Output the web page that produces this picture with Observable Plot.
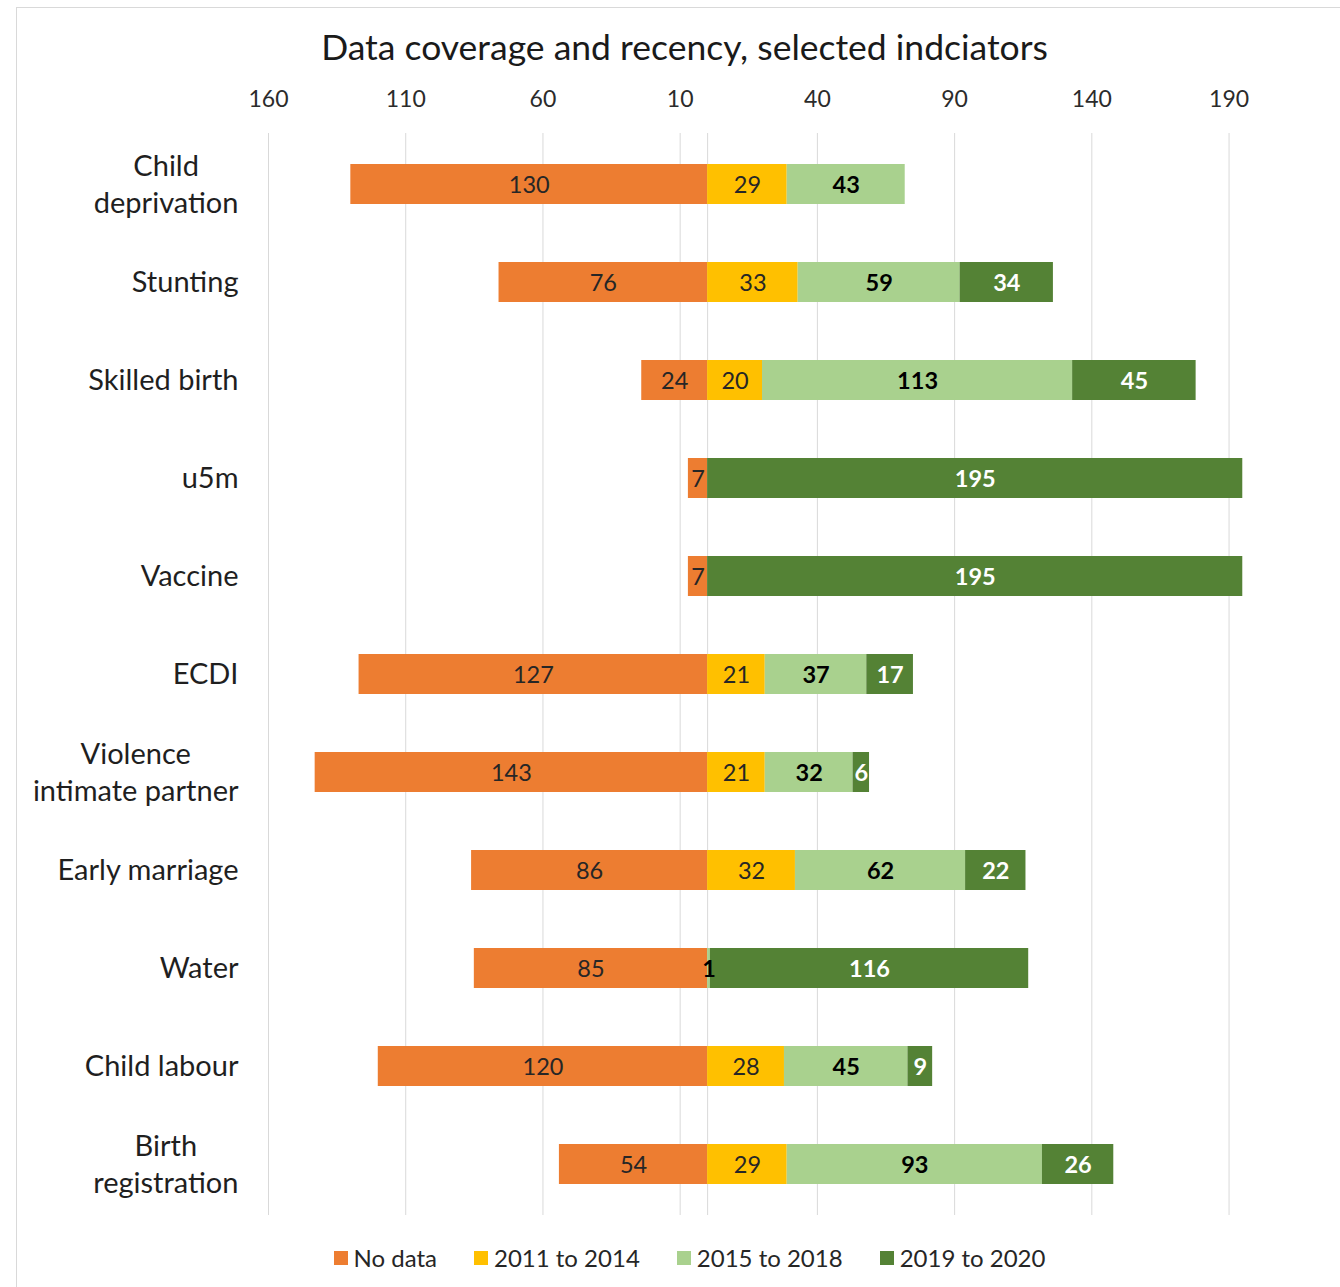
<!DOCTYPE html>
<html>
<head>
<meta charset="utf-8">
<script src="https://cdn.jsdelivr.net/npm/d3@7"></script>
<script src="https://cdn.jsdelivr.net/npm/@observablehq/plot@0.6"></script>
<style>
  html, body { margin: 0; padding: 0; width: 1340px; height: 1287px; overflow: hidden; background: #fff; }
  body { position: relative; font-family: Lato, "Open Sans", sans-serif; }
  .frame { position: absolute; left: 16px; top: 7px; width: 1400px; height: 1400px; border: 1px solid #d9d9d9; box-sizing: border-box; }
  .title { position: absolute; left: 0; top: 29px; width: 1369px; text-align: center; font-size: 35.5px; line-height: 36px; color: #1a1a1a; white-space: nowrap; }
  #chart { position: absolute; left: 0; top: 0; }
  .legend { position: absolute; left: 0; top: 1244px; width: 1379px; display: flex; justify-content: center; gap: 37px; font-size: 24px; line-height: 28px; color: #262626; }
  .legend .item { display: flex; align-items: center; gap: 6px; }
  .legend .sw { width: 14px; height: 14px; display: inline-block; }
</style>
</head>
<body>
<div class="frame"></div>
<div id="chart"></div>
<div class="title">Data coverage and recency, selected indciators</div>
<div class="legend" id="legend"></div>
<script>
// Indicators, top to bottom
const categories = [
  "Child\ndeprivation", "Stunting", "Skilled birth", "u5m", "Vaccine", "ECDI",
  "Violence\nintimate partner", "Early marriage", "Water", "Child labour", "Birth\nregistration"
];

// Number of countries in each recency group
const noData    = [130, 76, 24, 7, 7, 127, 143, 86, 85, 120, 54];
const y2011to14 = [29, 33, 20, 0, 0, 21, 21, 32, 0, 28, 29];
const y2015to18 = [43, 59, 113, 0, 0, 37, 32, 62, 1, 45, 93];
const y2019to20 = [0, 34, 45, 195, 195, 17, 6, 22, 116, 9, 26];

const seriesNames = ["No data", "2011 to 2014", "2015 to 2018", "2019 to 2020"];
const seriesColors = ["#ED7D31", "#FFC000", "#A9D18E", "#548235"];

// Axis ticks (left of zero shown as absolute counts)
const xTicks = [-160, -110, -60, -10, 40, 90, 140, 190];

// Diverging stack: "No data" to the left of zero, dated groups to the right
const rows = [];
categories.forEach((category, i) => {
  rows.push({category, series: seriesNames[0], value: noData[i], x1: -noData[i], x2: 0});
  let acc = 0;
  [y2011to14, y2015to18, y2019to20].forEach((arr, k) => {
    const v = arr[i];
    rows.push({category, series: seriesNames[k + 1], value: v, x1: acc, x2: acc + v});
    acc += v;
  });
});
const shown = rows.filter(d => d.value > 0);
const mid = d => (d.x1 + d.x2) / 2;

const chart = Plot.plot({
  width: 1340,
  height: 1287,
  marginLeft: 268,
  marginRight: 84,
  marginTop: 133,
  marginBottom: 72,
  style: {fontFamily: "Lato, 'Open Sans', sans-serif", background: "transparent", overflow: "visible"},
  x: {domain: [-160, 200], label: null},
  y: {domain: categories, paddingInner: 0.59, paddingOuter: 0.295, label: null},
  color: {domain: seriesNames, range: seriesColors},
  marks: [
    Plot.gridX(xTicks, {stroke: "#d9d9d9", strokeOpacity: 1, strokeWidth: 1}),
    Plot.ruleX([0], {stroke: "#d9d9d9", strokeWidth: 1}),
    Plot.barX(shown, {y: "category", x1: "x1", x2: "x2", fill: "series"}),
    Plot.text(shown.filter(d => d.series === "No data" || d.series === "2011 to 2014"),
      {y: "category", x: mid, text: "value", fill: "#262626", fontSize: 23.5, dy: 1}),
    Plot.text(shown.filter(d => d.series === "2015 to 2018"),
      {y: "category", x: mid, text: "value", fill: "#000", fontWeight: "bold", fontSize: 23.5, dy: 1}),
    Plot.text(shown.filter(d => d.series === "2019 to 2020"),
      {y: "category", x: mid, text: "value", fill: "#fff", fontWeight: "bold", fontSize: 23.5, dy: 1}),
    Plot.axisX(xTicks, {anchor: "top", tickSize: 0, tickPadding: 27, tickFormat: d => Math.abs(d),
      fontSize: 23, fill: "#2b2b2b", label: null}),
    Plot.axisY({tickSize: 0, tickPadding: 30, fontSize: 29, lineHeight: 1.28, dy: -2, fill: "#1f1f1f", label: null})
  ]
});

document.getElementById("chart").append(chart);

// Multi-line category labels: centre lines within a right-aligned block
chart.querySelectorAll('g[aria-label="y-axis tick label"] text').forEach(t => {
  const spans = t.querySelectorAll("tspan");
  if (spans.length < 2) return;
  const w = Math.max(...Array.from(spans, s => s.getComputedTextLength()));
  t.setAttribute("text-anchor", "middle");
  spans.forEach(s => s.setAttribute("x", -w / 2));
});

// Legend
const legend = document.getElementById("legend");
seriesNames.forEach((name, i) => {
  const item = document.createElement("div");
  item.className = "item";
  const sw = document.createElement("span");
  sw.className = "sw";
  sw.style.background = seriesColors[i];
  const label = document.createElement("span");
  label.textContent = name;
  item.append(sw, label);
  legend.append(item);
});
</script>
</body>
</html>
